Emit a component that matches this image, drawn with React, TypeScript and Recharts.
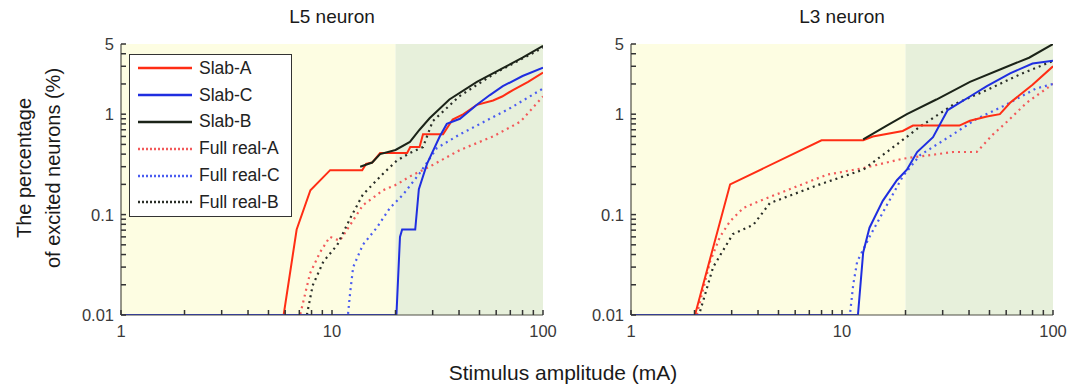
import React from "react";
import {
  LineChart,
  Line,
  XAxis,
  YAxis,
  ReferenceArea,
} from "recharts";

type Pt = { x: number; y: number };
const pts = (a: number[][]): Pt[] => a.map(([x, y]) => ({ x, y }));

// L5 neuron
const l5SlabA = pts([[1, 0.01], [5.9, 0.01], [6.8, 0.071], [7.9, 0.175], [9.8, 0.277], [13.9, 0.277], [14.5, 0.32], [15.5, 0.33], [16.9, 0.41], [22.7, 0.41], [23.5, 0.47], [26, 0.47], [27, 0.63], [33.6, 0.63], [37.3, 0.885], [42, 1.0], [48.6, 1.24], [58, 1.37], [64, 1.5], [72, 1.74], [85, 2.1], [100, 2.6]]);
const l5SlabC = pts([[1, 0.01], [20.2, 0.01], [21, 0.06], [21.5, 0.071], [24.8, 0.071], [25.8, 0.179], [28.2, 0.32], [32.4, 0.6], [35, 0.8], [40.4, 0.9], [48.6, 1.24], [56, 1.55], [64.5, 1.9], [80, 2.4], [100, 2.9]]);
const l5SlabB = pts([[13.6, 0.3], [15.5, 0.33], [16.9, 0.4], [20, 0.44], [23.4, 0.53], [26, 0.7], [29, 0.91], [36, 1.4], [48.6, 2.1], [64.5, 2.87], [80, 3.65], [100, 4.8]]);
const l5FullA = pts([[1, 0.01], [7.06, 0.01], [7.87, 0.026], [8.77, 0.042], [9.77, 0.06], [10.9, 0.055], [12.2, 0.079], [14, 0.124], [17.5, 0.175], [20.3, 0.2], [23.4, 0.24], [29, 0.3], [40.4, 0.44], [58, 0.6], [78, 0.84], [100, 1.5]]);
const l5FullC = pts([[1, 0.01], [11.9, 0.01], [12.2, 0.017], [12.6, 0.03], [14, 0.05], [16.3, 0.074], [18.8, 0.116], [21.7, 0.158], [26, 0.257], [31.4, 0.46], [40.4, 0.63], [48.6, 0.77], [70, 1.15], [100, 1.8]]);
const l5FullB = pts([[1, 0.01], [7.6, 0.01], [8.1, 0.0197], [9.1, 0.034], [10.6, 0.05], [12.2, 0.092], [14, 0.158], [17.5, 0.257], [20.3, 0.345], [23.4, 0.41], [27, 0.47], [30, 0.85], [40, 1.5], [60, 2.6], [100, 4.6]]);

// L3 neuron
const l3SlabA = pts([[1, 0.01], [2.01, 0.01], [2.95, 0.2], [8.0, 0.55], [12.6, 0.55], [14, 0.6], [19.4, 0.68], [21.7, 0.77], [36, 0.77], [40.4, 0.86], [48.6, 0.95], [56, 1.0], [62.6, 1.3], [70, 1.57], [80, 1.96], [100, 3.0]]);
const l3SlabB = pts([[12.6, 0.56], [16.3, 0.77], [20.3, 1.0], [28, 1.4], [40.4, 2.1], [58, 2.87], [77, 3.65], [100, 5.0]]);
const l3SlabC = pts([[1, 0.01], [11.9, 0.01], [12.6, 0.042], [13.5, 0.074], [15.6, 0.137], [18.2, 0.22], [20.3, 0.28], [22.7, 0.42], [27, 0.59], [31.7, 1.1], [40.4, 1.5], [48.6, 1.9], [62.6, 2.55], [80, 3.2], [100, 3.4]]);
const l3FullA = pts([[1, 0.01], [2.05, 0.01], [2.37, 0.034], [2.64, 0.06], [2.95, 0.086], [3.4, 0.116], [4.08, 0.137], [5.5, 0.175], [8.5, 0.25], [12.6, 0.29], [19.4, 0.36], [33.6, 0.42], [43.5, 0.42], [52, 0.63], [60.5, 0.84], [75, 1.3], [100, 2.0]]);
const l3FullB = pts([[1, 0.01], [2.1, 0.01], [2.45, 0.03], [3.04, 0.064], [3.8, 0.079], [4.55, 0.13], [7.85, 0.2], [12.6, 0.28], [18.2, 0.5], [23.4, 0.75], [33.6, 1.24], [48.6, 1.74], [70, 2.5], [100, 3.4]]);
const l3FullC = pts([[1, 0.01], [10.9, 0.01], [11.3, 0.02], [11.8, 0.034], [13.5, 0.06], [16.3, 0.124], [19.4, 0.24], [23.4, 0.39], [33.6, 0.63], [43.5, 0.9], [58, 1.2], [83, 1.8], [100, 2.0]]);

const xTicks = [1, 2, 3, 4, 5, 6, 7, 8, 9, 10, 20, 30, 40, 50, 60, 70, 80, 90, 100];
const yTicks = [0.01, 0.02, 0.03, 0.04, 0.05, 0.06, 0.07, 0.08, 0.09, 0.1, 0.2, 0.3, 0.4, 0.5, 0.6, 0.7, 0.8, 0.9, 1, 2, 3, 4, 5];
const xMajor = [1, 10, 100];
const yMajor = [0.01, 0.1, 1, 5];
const bands = [
  { from: 1, to: 20, fill: "#fdfde2" },
  { from: 20, to: 100, fill: "#e7f0db" },
];

const RED = "#ff2d14";
const BLUE = "#1f2ee0";
const BLACK = "#1b2318";
const RED_DOT = "#f25a5a";
const BLUE_DOT = "#4a5cf0";
const BLACK_DOT = "#2a2e28";
const AXIS = "#4f4f45";
const FONT = "'Liberation Sans', Arial, sans-serif";

const legendRows = [
  { name: "Slab-A", color: RED, dash: undefined },
  { name: "Slab-C", color: BLUE, dash: undefined },
  { name: "Slab-B", color: BLACK, dash: undefined },
  { name: "Full real-A", color: RED_DOT, dash: "2 2" },
  { name: "Full real-C", color: BLUE_DOT, dash: "2 2" },
  { name: "Full real-B", color: BLACK_DOT, dash: "2 2" },
];

const TICK_LEN = 5;

const XTick = (side: "bottom" | "top") => (props: any) => {
  const { x, y, payload } = props;
  const major = xMajor.includes(payload.value);
  const dir = side === "bottom" ? -1 : 1;
  return (
    <g>
      <line x1={x} x2={x} y1={y} y2={y + dir * TICK_LEN} stroke="#333" strokeWidth={1.5} />
      {side === "bottom" && major && (
        <text x={x} y={y + 22} textAnchor="middle" fontSize={16.5} fill="#3a3a3a" fontFamily={FONT}>
          {payload.value}
        </text>
      )}
    </g>
  );
};

const YTick = (side: "left" | "right") => (props: any) => {
  const { x, y, payload } = props;
  const dir = side === "left" ? 1 : -1;
  const major = yMajor.includes(payload.value);
  return (
    <g>
      <line x1={x} x2={x + dir * TICK_LEN} y1={y} y2={y} stroke="#333" strokeWidth={1.5} />
      {side === "left" && major && (
        <text x={x - 7} y={y + 6} textAnchor="end" fontSize={16.5} fill="#3a3a3a" fontFamily={FONT}>
          {payload.value}
        </text>
      )}
    </g>
  );
};

const LegendBox = () => (
  <div
    style={{
      position: "absolute",
      left: 129,
      top: 54,
      width: 163,
      height: 163,
      border: "1px solid #333",
      background: "#fff",
      boxSizing: "border-box",
      padding: "0 0 0 7px",
      fontFamily: FONT,
      fontSize: 17.5,
      color: "#222",
    }}
  >
    {legendRows.map((r) => (
      <div key={r.name} style={{ display: "flex", alignItems: "center", height: 26.8, whiteSpace: "nowrap" }}>
        <svg width={56} height={6} style={{ marginRight: 6, flex: "none" }}>
          <line x1={1} x2={55} y1={3} y2={3} stroke={r.color} strokeWidth={2.5} strokeDasharray={r.dash} />
        </svg>
        <span>{r.name}</span>
      </div>
    ))}
  </div>
);

type Series = { name: string; data: Pt[]; color: string; dash?: string };

// background bands, drawn in a chart of their own underneath
const Bands = ({ series }: { series: Series[] }) => (
  <LineChart width={560} height={340} margin={{ top: 44, right: 17, left: 121, bottom: 25 }}>
    <XAxis xAxisId="b" dataKey="x" type="number" scale="log" domain={[1, 100]} allowDataOverflow hide />
    <YAxis yAxisId="l" type="number" scale="log" domain={[0.01, 5]} allowDataOverflow hide />
    {bands.map((b) => (
      <ReferenceArea
        key={b.from}
        xAxisId="b"
        yAxisId="l"
        x1={b.from}
        x2={b.to}
        y1={0.01}
        y2={5}
        fill={b.fill}
        fillOpacity={1}
        stroke="none"
      />
    ))}
    <Line
      xAxisId="b"
      yAxisId="l"
      data={series[0].data}
      dataKey="y"
      stroke="transparent"
      dot={false}
      activeDot={false}
      isAnimationActive={false}
    />
  </LineChart>
);

const Panel = ({ series }: { series: Series[] }) => (
  <LineChart width={560} height={340} margin={{ top: 44, right: 17, left: 0, bottom: 0 }}>
    <XAxis
      xAxisId="b"
      dataKey="x"
      type="number"
      scale="log"
      domain={[1, 100]}
      allowDataOverflow
      ticks={xTicks}
      interval={0}
      height={25}
      tickSize={0}
      tickMargin={0}
      tick={XTick("bottom")}
      axisLine={{ stroke: AXIS, strokeWidth: 1.2 }}
    />
    <XAxis
      xAxisId="t"
      orientation="top"
      dataKey="x"
      type="number"
      scale="log"
      domain={[1, 100]}
      allowDataOverflow
      ticks={xTicks}
      interval={0}
      height={0}
      tickSize={0}
      tickMargin={0}
      tick={XTick("top")}
      axisLine={{ stroke: AXIS, strokeWidth: 1.2 }}
    />
    <YAxis
      yAxisId="l"
      type="number"
      scale="log"
      domain={[0.01, 5]}
      allowDataOverflow
      ticks={yTicks}
      interval={0}
      width={121}
      tickSize={0}
      tickMargin={0}
      tick={YTick("left")}
      axisLine={{ stroke: AXIS, strokeWidth: 1.2 }}
    />
    <YAxis
      yAxisId="r"
      orientation="right"
      type="number"
      scale="log"
      domain={[0.01, 5]}
      allowDataOverflow
      ticks={yTicks}
      interval={0}
      width={0}
      tickSize={0}
      tickMargin={0}
      tick={YTick("right")}
      axisLine={{ stroke: AXIS, strokeWidth: 1.2 }}
    />
    {series.map((s) => (
      <Line
        key={s.name}
        xAxisId="b"
        yAxisId="l"
        data={s.data}
        dataKey="y"
        name={s.name}
        type="linear"
        stroke={s.color}
        strokeWidth={s.dash ? 2.2 : 2}
        strokeDasharray={s.dash}
        dot={false}
        activeDot={false}
        isAnimationActive={false}
      />
    ))}
  </LineChart>
);

const l5Series: Series[] = [
  { name: "Full real-A", data: l5FullA, color: RED_DOT, dash: "2 4" },
  { name: "Full real-C", data: l5FullC, color: BLUE_DOT, dash: "2 4" },
  { name: "Full real-B", data: l5FullB, color: BLACK_DOT, dash: "2 4" },
  { name: "Slab-A", data: l5SlabA, color: RED },
  { name: "Slab-C", data: l5SlabC, color: BLUE },
  { name: "Slab-B", data: l5SlabB, color: BLACK },
];

const l3Series: Series[] = [
  { name: "Full real-A", data: l3FullA, color: RED_DOT, dash: "2 4" },
  { name: "Full real-C", data: l3FullC, color: BLUE_DOT, dash: "2 4" },
  { name: "Full real-B", data: l3FullB, color: BLACK_DOT, dash: "2 4" },
  { name: "Slab-A", data: l3SlabA, color: RED },
  { name: "Slab-C", data: l3SlabC, color: BLUE },
  { name: "Slab-B", data: l3SlabB, color: BLACK },
];

const text: React.CSSProperties = {
  position: "absolute",
  fontFamily: FONT,
  color: "#1a1a1a",
  whiteSpace: "nowrap",
};

const layer = (left: number): React.CSSProperties => ({ position: "absolute", left, top: 0 });

export default function App() {
  return (
    <div style={{ position: "absolute", left: 0, top: 0, width: 1083, height: 389, background: "#fff", overflow: "hidden" }}>
      <div style={layer(0)}><Bands series={l5Series} /></div>
      <div style={layer(510)}><Bands series={l3Series} /></div>
      <div style={layer(0)}><Panel series={l5Series} /></div>
      <div style={layer(510)}><Panel series={l3Series} /></div>
      <LegendBox />
      <div style={{ ...text, left: 282, top: 6, width: 100, textAlign: "center", fontSize: 19 }}>L5 neuron</div>
      <div style={{ ...text, left: 792, top: 6, width: 100, textAlign: "center", fontSize: 19 }}>L3 neuron</div>
      <div style={{ ...text, left: 413, top: 361, width: 300, textAlign: "center", fontSize: 21 }}>
        Stimulus amplitude (mA)
      </div>
      <div
        style={{
          ...text,
          left: 39,
          top: 168,
          fontSize: 20,
          lineHeight: "29px",
          textAlign: "center",
          transform: "translate(-50%, -50%) rotate(-90deg)",
        }}
      >
        The percentage
        <br />
        of excited neurons (%)
      </div>
    </div>
  );
}
